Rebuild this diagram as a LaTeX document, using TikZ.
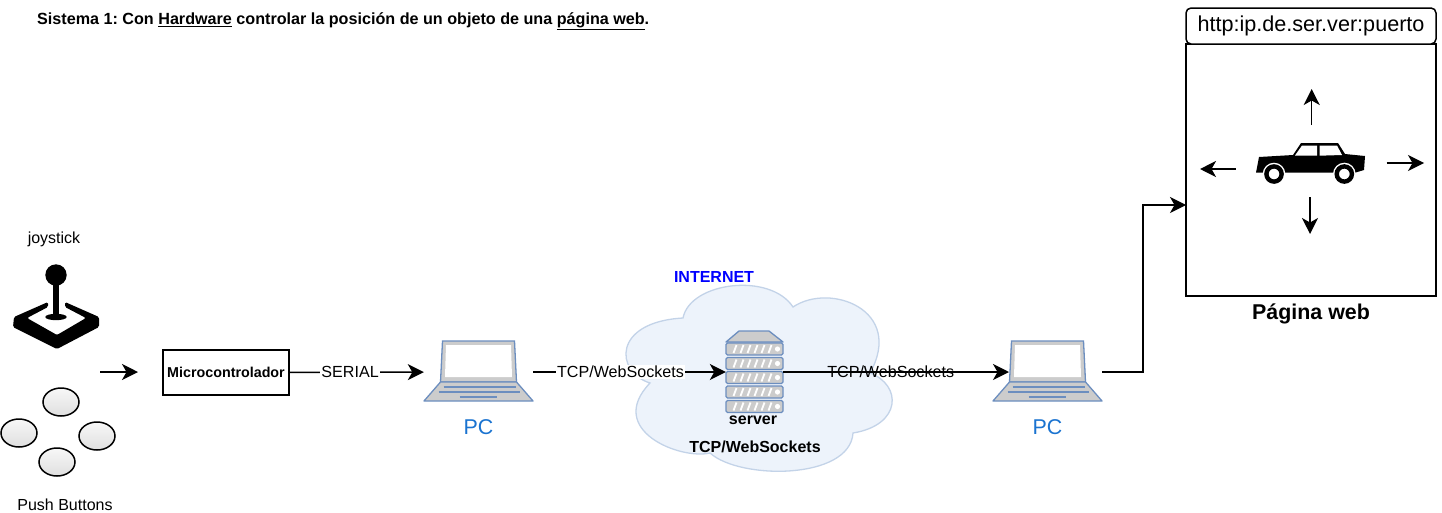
\documentclass[tikz,border=0pt]{standalone}
\usepackage{fontspec}
\setmainfont{Liberation Sans}
\usetikzlibrary{arrows.meta,positioning,shapes.geometric}
\definecolor{pcblue}{HTML}{6C8EBF}
\definecolor{pctext}{HTML}{1A73D0}
\definecolor{cloudline}{HTML}{C3D3E8}
\definecolor{cloudfill}{HTML}{EDF3FB}
\definecolor{unitgrey}{HTML}{CCCCCC}
\newcommand{\rulew}[1]{\vtop{\hbox{#1}\kern1.5pt\hrule height 1.3pt}}
\tikzset{
    flow/.style={line width=1.5pt,-{Stealth[length=16pt,width=16pt,inset=4.5pt]}},
    plainbox/.style={draw,line width=1.5pt,inner sep=0pt},
    icon/.style={inner sep=0pt},
    caption/.style={inner sep=0pt,font=\fontsize{16}{19}\selectfont},
    bolder/.style={inner sep=0pt,font=\fontsize{16}{19}\selectfont\bfseries},
    link/.style={inner sep=1pt,font=\fontsize{16.1}{19}\selectfont},
    pctag/.style={inner sep=0pt,text=pctext,font=\fontsize{21.4}{25}\selectfont},
    button/.style={draw,line width=1.5pt,ellipse,minimum width=36pt,minimum height=28pt,
        inner sep=0pt,top color=gray!6,bottom color=gray!25},
    pics/laptop/.style={code={
        \draw[pcblue,line width=1.3pt,fill=unitgrey] (-36,-31) -- (36,-31) -- (38,10) -- (-38,10) -- cycle;
        \fill[white] (-32.5,-27) -- (32.5,-27) -- (33.5,5) -- (-33.5,5) -- cycle;
        \draw[pcblue,line width=1.3pt,fill=unitgrey,line join=round] (-38,10) -- (38,10) -- (54.5,29) -- (-54.5,29) -- cycle;
        \draw[pcblue,line width=1.5pt] (-35,15) -- (37,15);
        \draw[pcblue,line width=1.5pt] (-40,20) -- (41,20);
        \draw[pcblue,line width=1.5pt] (-19,25) -- (18,25);
    }},
    pics/rackunit/.style={code={
        \draw[pcblue,line width=1.3pt,fill=unitgrey,rounded corners=1.5pt] (-28.5,-6) rectangle (28.5,6);
        \foreach \sx in {-21,-14,...,14}
            \draw[white,line width=1.8pt] (\sx,4) -- (\sx+3,-4);
        \fill[white] (23,0) circle (2.6);
    }},
}
\begin{document}
\frenchspacing
\begin{tikzpicture}[x=1pt,y=-1pt]
    \useasboundingbox (0,0) rectangle (1442,512);

    \node[inner sep=0pt,anchor=base west,font=\fontsize{16.15}{19}\selectfont\bfseries] (title) at (37,24)
        {Sistema 1: Con \rulew{Hardware} controlar la posición de un objeto de una \rulew{página web}.};

    \node[caption] (joytag) at (54,239.5) {joystick};
    \fill (56,275) circle (10.7);
    \fill (53,275) rectangle (59,315);
    \fill (56,317) ellipse (10.7 and 3.2);
    \fill[rounded corners=1.5pt] (48,302) -- (14,317) -- (13,327) -- (57,349) -- (99,327) -- (99,317) -- (65,302)
        -- (65,307) -- (86,318) -- (57,335) -- (27,318) -- (48,307) -- cycle;

    \node[button] (btnup) at (61,402) {};
    \node[button] (btnleft) at (19,433) {};
    \node[button] (btnright) at (97,436) {};
    \node[button] (btndown) at (57,462) {};
    \node[caption] (btntag) at (65,504.5) {Push Buttons};

    \coordinate (inleft) at (100,372);
    \coordinate (inright) at (138,372);
    \draw[flow] (inleft) -- (inright);

    \node[plainbox,minimum width=126pt,minimum height=45pt,font=\fontsize{14.3}{17}\selectfont\bfseries] (micro) at (226,372.5) {Microcontrolador};

    \node[icon,minimum width=109pt,minimum height=60pt] (pcleft) at (478.5,372) {};
    \pic at (pcleft) {laptop};
    \node[pctag] (pclefttag) at (478.5,427) {PC};

    \draw[cloudline,fill=cloudfill,line width=1.3pt] (650,383)
        .. controls (615,372) and (612,322) .. (683,318)
        .. controls (690,282) and (770,272) .. (793,307)
        .. controls (830,282) and (905,310) .. (870,373)
        .. controls (902,385) and (902,425) .. (853,433)
        .. controls (850,480) and (740,480) .. (710,453)
        .. controls (680,460) and (605,430) .. (650,383) -- cycle;
    \node[bolder,text=blue] (inettag) at (714,277) {INTERNET};

    \node[icon,minimum width=57pt,minimum height=82pt] (server) at (754.5,372) {};
    \draw[pcblue,line width=1.3pt,fill=unitgrey,line join=round] (739,331) -- (769,331) -- (783,342) -- (726,342) -- cycle;
    \foreach \uy in {349,363.5,377.5,392,406.5}
        \pic at (754.5,\uy) {rackunit};
    \node[bolder] (servertag) at (753,420.5) {server};
    \node[bolder] (tcptag) at (755,447) {TCP/WebSockets};

    \node[icon,minimum width=109pt,minimum height=60pt] (pcright) at (1047.5,372) {};
    \pic at (pcright) {laptop};
    \node[pctag] (pcrighttag) at (1047.5,427) {PC};
    \coordinate (pcrightin) at (1009,372);

    \draw[flow] (micro) -- node[pos=.45,link,fill=white] {SERIAL} (pcleft);
    \draw[flow] (pcleft) -- node[pos=.453,link,fill=white] {TCP/WebSockets} (server);
    \draw[flow] (server) -- node[pos=.476,link] {TCP/WebSockets} (pcrightin);

    \node[plainbox,minimum width=250pt,minimum height=252pt] (page) at (1311,170) {};
    \node[plainbox,fill=white,rounded corners=5pt,minimum width=250pt,minimum height=36pt,font=\fontsize{21.6}{25}\selectfont] (url) at (1311,26) {http:ip.de.ser.ver:puerto};
    \node[inner sep=0pt,font=\fontsize{21.4}{25}\selectfont\bfseries] (pagetag) at (1311,314) {Página web};

    \coordinate (pagein) at (1186,205);
    \draw[flow] (pcright) -- ++(95.5,0) |- (pagein);

    \fill[line join=round] (1256,172.7) -- (1259,157) -- (1293,155) -- (1301,143) -- (1338,143) -- (1345,154)
        -- (1365,156) -- (1364,170) -- (1355,172.7) -- cycle;
    \fill[white] (1295,155.5) -- (1302,145.5) -- (1317,145.5) -- (1317,155.7) -- cycle;
    \fill[white] (1319.5,145.5) -- (1337,145.5) -- (1342,155) -- (1319.5,155.7) -- cycle;
    \foreach \wx in {1274,1344.3} {
        \fill[white] (\wx,174) circle (11.3);
        \draw[line width=4.4pt] (\wx,174) circle (7.6);
    }

    \coordinate (carup) at (1311.7,125);
    \coordinate (carupend) at (1311.7,89);
    \coordinate (carleft) at (1235.7,169);
    \coordinate (carleftend) at (1200,169);
    \coordinate (carright) at (1386.7,163);
    \coordinate (carrightend) at (1424,163);
    \coordinate (cardown) at (1310,197);
    \coordinate (cardownend) at (1310,234);
    \draw[flow] (carup) -- (carupend);
    \draw[flow] (carleft) -- (carleftend);
    \draw[flow] (carright) -- (carrightend);
    \draw[flow] (cardown) -- (cardownend);
\end{tikzpicture}
\end{document}
